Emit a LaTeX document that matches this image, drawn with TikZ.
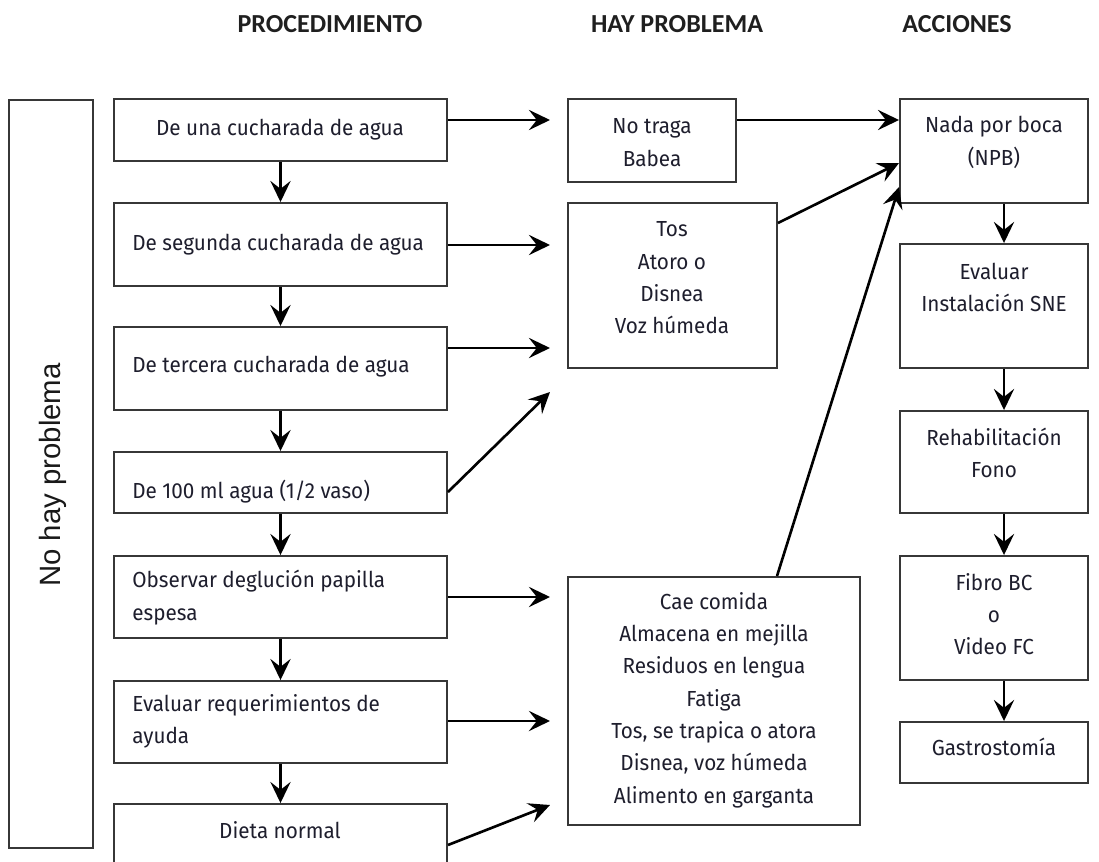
\documentclass[tikz,border=0pt]{standalone}
\usepackage{fontspec}
\setmainfont{Fira Sans}[FakeStretch=0.95]
\newfontfamily\hdrfont{Carlito}
\newfontfamily\lblfont{Liberation Sans}
\usetikzlibrary{arrows.meta,calc}
\definecolor{boxc}{RGB}{55,55,55}
\definecolor{txtc}{RGB}{30,30,45}
\newcommand\bx[5]{\node[box, minimum width={(#4-#2)*0.02cm}, minimum height={(#5-#3)*0.02cm}] (#1) at ({(#2+#4)/2},{(#3+#5)/2}) {};}
\begin{document}
\begin{tikzpicture}[x=0.02cm,y=-0.02cm,
  box/.style={draw=boxc, line width=1.1pt, inner sep=0pt, fill=white},
  arr/.style={-{Stealth[length=12pt,width=11.5pt,inset=4.5pt]}, line width=1.5pt, black},
  txt/.style={font=\fontsize{12.4}{18.4}\selectfont, text=txtc, inner sep=0pt},
  hdr/.style={font=\hdrfont\bfseries\fontsize{14.8}{17}\selectfont, text=black!88, inner sep=0pt},
  lbl/.style={font=\lblfont\fontsize{16.7}{20}\selectfont, text=black!90, inner sep=0pt}]
\useasboundingbox (0,0) rectangle (1099,862);
\clip (0,0) rectangle (1099,862);
% headers
\node[hdr] (h1) at (330,24) {PROCEDIMIENTO};
\node[hdr] (h2) at (677,24) {HAY PROBLEMA};
\node[hdr] (h3) at (957,24) {ACCIONES};
% left box
\bx{nhp}{9}{100}{93}{848}
\node[lbl, rotate=90] (nhpt) at (53,475) {No hay problema};
% procedure column
\bx{p1}{114}{99}{447}{161}
\bx{p2}{114}{203}{447}{286}
\bx{p3}{114}{327}{447}{410}
\bx{p4}{114}{452}{447}{513}
\bx{p5}{114}{556}{447}{638}
\bx{p6}{114}{681}{447}{763}
\bx{p7}{114}{804}{447}{900}
\node[txt] (p1t) at (280,130) {De una cucharada de agua};
\node[txt, anchor=west] (p2t) at (132,245) {De segunda cucharada de agua};
\node[txt, anchor=west] (p3t) at (132,367) {De tercera cucharada de agua};
\node[txt, anchor=west] (p4t) at (132,492) {De 100 ml agua (1/2 vaso)};
\node[txt, anchor=west, align=left] (p5t) at (132,597.5) {Observar deglución papilla\\espesa};
\node[txt, anchor=west, align=left] (p6t) at (132,721) {Evaluar requerimientos de\\ayuda};
\node[txt] (p7t) at (280,830) {Dieta normal};
\foreach \a/\b in {p1/p2,p2/p3,p3/p4,p4/p5,p5/p6,p6/p7}
  \draw[arr] (\a.south) -- (\b.north);
% hay problema column
\bx{q1}{568}{99}{736}{182}
\bx{q2}{568}{203}{777}{368}
\bx{q3}{568}{577}{860}{825}
\node[txt, align=center] (q1t) at (652,142.5) {No traga\\Babea};
\node[txt, align=center] (q2t) at (672,278) {Tos\\Atoro o\\Disnea\\Voz húmeda};
\node[txt, align=center] (q3t) at (714,700) {Cae comida\\Almacena en mejilla\\Residuos en lengua\\Fatiga\\Tos, se trapica o atora\\Disnea, voz húmeda\\Alimento en garganta};
% acciones column
\bx{r1}{900}{99}{1088}{203}
\bx{r2}{900}{244}{1088}{368}
\bx{r3}{900}{411}{1088}{513}
\bx{r4}{900}{556}{1088}{680}
\bx{r5}{900}{722}{1088}{783}
\node[txt, align=center] (r1t) at (994,142.5) {Nada por boca\\(NPB)};
\node[txt, align=center] (r2t) at (994,287.5) {Evaluar\\Instalación SNE};
\node[txt, align=center] (r3t) at (994,453) {Rehabilitación\\Fono};
\node[txt, align=center] (r4t) at (994,614) {Fibro BC\\o\\Video FC};
\node[txt] (r5t) at (994,747) {Gastrostomía};
\coordinate (cx) at (1004,0);
\foreach \a/\b in {r1/r2,r2/r3,r3/r4,r4/r5}
  \draw[arr] (\a.south -| cx) -- (\b.north -| cx);
% arrows procedure -> problem
\coordinate (t1) at (550,120);
\coordinate (t2) at (550,245);
\coordinate (t3) at (550,348);
\coordinate (t4) at (550,392);
\coordinate (t5) at (550,597);
\coordinate (t6) at (550,721);
\coordinate (t7) at (550,805);
\coordinate (s4) at (0,492);
\coordinate (s7) at (0,845);
\draw[arr] (p1.east |- t1) -- (t1);
\draw[arr] (p2.east |- t2) -- (t2);
\draw[arr] (p3.east |- t3) -- (t3);
\draw[arr] (p4.east |- s4) -- (t4);
\draw[arr] (p5.east |- t5) -- (t5);
\draw[arr] (p6.east |- t6) -- (t6);
\draw[arr] (p7.east |- s7) -- (t7);
% arrows problem -> actions
\coordinate (u2) at (0,223);
\coordinate (v2) at (0,163);
\coordinate (u3) at (777,0);
\coordinate (v3) at (0,187);
\draw[arr] (q1.east |- t1) -- (r1.west |- t1);
\draw[arr] (q2.east |- u2) -- (r1.west |- v2);
\draw[arr] (q3.north -| u3) -- (r1.west |- v3);
\end{tikzpicture}
\end{document}
